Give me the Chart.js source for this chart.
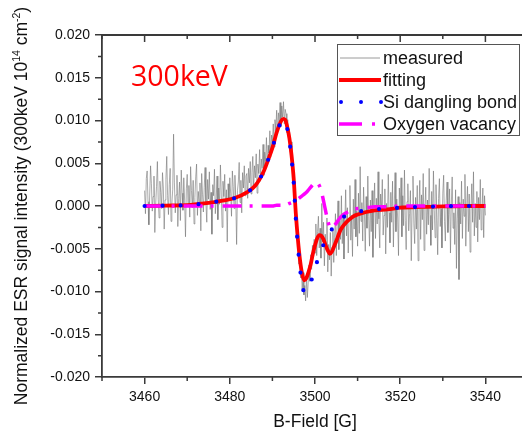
<!DOCTYPE html>
<html>
<head>
<meta charset="utf-8">
<script src="https://cdn.jsdelivr.net/npm/chart.js@4.4.1/dist/chart.umd.min.js"></script>
<style>
  html, body { margin: 0; padding: 0; background: #fff; overflow: hidden; }
  #wrap { width: 530px; height: 435px; }
</style>
</head>
<body>
<div id="wrap"><canvas id="esrChart" width="530" height="435"></canvas></div>
<script>
// measured ESR trace, sampled every 0.2 G starting at 3460 G
const measStart = 3460;
const measStep = 0.2;
const measured = [
  // 3460 - 3484
  0.0018, -0.0009, 0.0032, 0.0041, 0.0005, -0.0022, 0.0014, 0.0047, 0.0026, -0.0006,
  0.0011, 0.0035, -0.0031, 0.0002, 0.0023, 0.0052, 0.0008, -0.0014, 0.0029, 0.0016,
  -0.0003, 0.0039, 0.0021, -0.0027, 0.0007, 0.0031, 0.0058, 0.0012, -0.0010, 0.0025,
  0.0044, -0.0018, 0.0003, 0.0019, 0.0084, 0.0027, -0.0008, 0.0013, 0.0036, -0.0024,
  0.0009, 0.0028, -0.0017, 0.0042, 0.0015, -0.0005, 0.0033, 0.0006, -0.0036, 0.0020,
  0.0037, 0.0001, 0.0024, -0.0013, 0.0046, 0.0018, -0.0002, 0.0030, -0.0021, 0.0010,
  0.0034, 0.0049, -0.0011, 0.0017, 0.0004, 0.0027, -0.0029, 0.0038, 0.0013, -0.0007,
  0.0022, 0.0045, 0.0003, -0.0019, 0.0031, 0.0008, 0.0040, -0.0004, 0.0016, -0.0033,
  0.0025, 0.0012, 0.0043, -0.0009, 0.0006, 0.0035, -0.0016, 0.0021, 0.0002, 0.0048,
  0.0014, -0.0025, 0.0029, 0.0011, 0.0037, -0.0006, 0.0019, -0.0042, 0.0026, 0.0007,
  0.0033, 0.0015, -0.0012, 0.0041, 0.0023, -0.0003, 0.0036, 0.0009, -0.0045, 0.0018,
  0.0028, 0.0051, 0.0004, 0.0030, -0.0008, 0.0039, 0.0021, 0.0047, 0.0012, 0.0035,
  // 3484 - 3493
  0.0038, 0.0009, 0.0044, 0.0027, 0.0052, 0.0014, 0.0039, 0.0058, 0.0020, 0.0047,
  0.0033, 0.0061, 0.0015, 0.0049, 0.0038, 0.0066, 0.0029, 0.0055, 0.0044, 0.0072,
  0.0036, 0.0063, 0.0052, 0.0080, 0.0047, 0.0071, 0.0062, 0.0088, 0.0057, 0.0083,
  0.0074, 0.0096, 0.0069, 0.0101, 0.0088, 0.0112, 0.0084, 0.0109, 0.0098, 0.0121,
  0.0093, 0.0117, 0.0104, 0.0122, 0.0096, 0.0113,
  // 3493.2 - 3500
  0.0108, 0.0086, 0.0101, 0.0077, 0.0090, 0.0063, 0.0075, 0.0044, 0.0051, 0.0022,
  0.0029, -0.0009, -0.0006, -0.0038, -0.0033, -0.0068, -0.0055, -0.0084, -0.0071, -0.0099,
  -0.0078, -0.0104, -0.0093, -0.0111, -0.0082, -0.0107, -0.0090, -0.0069, -0.0088, -0.0057,
  -0.0074, -0.0046, -0.0061, -0.0039, -0.0055,
  // 3500.2 - 3510
  -0.0021, -0.0058, -0.0030, -0.0012, -0.0049, -0.0026, -0.0061, 0.0003, -0.0042, -0.0019,
  -0.0070, -0.0033, -0.0052, -0.0014, -0.0077, -0.0045, -0.0063, -0.0031, -0.0082, -0.0048,
  -0.0028, -0.0066, -0.0037, -0.0009, -0.0058, -0.0024, 0.0006, -0.0051, -0.0017, -0.0039,
  0.0012, -0.0044, -0.0008, -0.0062, -0.0021, 0.0019, -0.0035, -0.0002, -0.0055, -0.0014,
  0.0024, -0.0040, -0.0011, -0.0059, 0.0008, -0.0027, 0.0031, -0.0036, -0.0006, -0.0047,
  // 3510.2 - 3540
  0.0015, -0.0032, 0.0046, -0.0018, 0.0004, -0.0041, 0.0022, -0.0009, -0.0053, 0.0011,
  -0.0026, 0.0035, -0.0012, -0.0047, 0.0007, -0.0030, 0.0018, -0.0060, -0.0003, 0.0027,
  -0.0038, 0.0009, -0.0021, 0.0040, -0.0015, -0.0049, 0.0014, -0.0006, 0.0031, -0.0034,
  -0.0011, 0.0020, -0.0056, 0.0003, -0.0025, 0.0037, -0.0008, -0.0043, 0.0016, -0.0019,
  0.0029, -0.0048, -0.0002, 0.0039, -0.0030, 0.0008, -0.0014, -0.0058, 0.0021, -0.0004,
  0.0033, -0.0036, 0.0012, -0.0023, 0.0042, -0.0017, -0.0051, 0.0005, 0.0026, -0.0029,
  -0.0009, 0.0018, -0.0064, 0.0001, 0.0035, -0.0020, -0.0044, 0.0010, -0.0027, 0.0024,
  -0.0064, -0.0007, 0.0030, -0.0039, 0.0013, -0.0016, 0.0038, -0.0052, -0.0001, 0.0022,
  -0.0033, 0.0007, -0.0022, 0.0044, -0.0011, -0.0046, 0.0017, -0.0028, 0.0041, -0.0005,
  -0.0037, 0.0025, -0.0013, -0.0057, 0.0009, 0.0032, -0.0024, -0.0003, -0.0049, 0.0015,
  0.0036, -0.0018, -0.0041, 0.0006, 0.0028, -0.0031, -0.0010, 0.0020, -0.0055, 0.0002,
  0.0034, -0.0026, -0.0008, -0.0045, 0.0019, -0.0073, -0.0015, 0.0011, -0.0086, 0.0004,
  -0.0021, 0.0029, -0.0038, 0.0008, -0.0012, 0.0037, -0.0047, -0.0002, 0.0023, -0.0030,
  0.0014, -0.0054, -0.0006, 0.0026, -0.0019, 0.0040, -0.0035, 0.0003, -0.0025, 0.0017,
  -0.0042, 0.0010, -0.0016, 0.0031, -0.0028, -0.0004, 0.0021, -0.0037, 0.0012, -0.0011
];

// fitted curves share this field grid
const fitField = [
  3460, 3465, 3470, 3474, 3478, 3481, 3484, 3486, 3488, 3489, 3490, 3491, 3492, 3492.5,
  3493, 3493.5, 3494, 3494.5, 3495, 3495.5, 3496, 3496.5, 3497, 3497.5, 3498, 3498.5,
  3499, 3499.5, 3500, 3500.5, 3501, 3501.5, 3502, 3502.5, 3503, 3503.5, 3504, 3504.5,
  3505, 3506, 3507, 3508, 3509, 3510, 3512, 3514, 3517, 3520, 3525, 3530, 3535, 3540
];
const fitting = [
  0.0000, 0.00005, 0.0001, 0.0003, 0.0006, 0.0009, 0.0016, 0.0024, 0.0041, 0.0054, 0.0068, 0.0086, 0.0099, 0.0102,
  0.0101, 0.0092, 0.0079, 0.0059, 0.0032, -0.0009, -0.0040, -0.0064, -0.0080, -0.0087, -0.0084, -0.0077,
  -0.0068, -0.0056, -0.0046, -0.0038, -0.0034, -0.0035, -0.0039, -0.0046, -0.0052, -0.0056, -0.0053, -0.0047,
  -0.0041, -0.0028, -0.0021, -0.0016, -0.0012, -0.0010, -0.0007, -0.0005, -0.0004, -0.0002, -0.0001, -0.00005, 0.0000, 0.0000
];
const siDangling = [
  0.0000, 0.00005, 0.0001, 0.0003, 0.0006, 0.0009, 0.0016, 0.0024, 0.0041, 0.0054, 0.0068, 0.0085, 0.0098, 0.0101,
  0.0099, 0.0090, 0.0076, 0.0055, 0.0027, -0.0015, -0.0048, -0.0074, -0.0092, -0.0101, -0.0100, -0.0096,
  -0.0090, -0.0081, -0.0073, -0.0065, -0.0058, -0.0052, -0.0045, -0.0040, -0.0035, -0.0031, -0.0027, -0.0024,
  -0.0021, -0.0015, -0.0012, -0.0010, -0.0008, -0.0007, -0.0005, -0.0004, -0.0003, -0.0002, -0.0001, -0.00005, 0.0000, 0.0000
];
const oxVacancy = [
  0.0000, 0.0000, 0.0000, 0.0000, 0.0000, 0.0000, 0.0000, 0.0000, 0.0000, 0.0000, 0.0000, 0.0001, 0.0001, 0.0001,
  0.0002, 0.0002, 0.0003, 0.0004, 0.0005, 0.0006, 0.0008, 0.0010, 0.0012, 0.0014, 0.0016, 0.0019,
  0.0022, 0.0025, 0.0027, 0.0027, 0.0024, 0.0017, 0.0006, -0.0006, -0.0017, -0.0025, -0.0026, -0.0023,
  -0.0020, -0.0013, -0.0009, -0.0006, -0.0004, -0.0003, -0.0002, -0.0001, -0.0001, 0.0000, 0.0000, 0.0000, 0.0000, 0.0000
];

const xTicks = [3460, 3480, 3500, 3520, 3540];
const xMinorTicks = [3450, 3470, 3490, 3510, 3530, 3550];
const yTicks = [-0.020, -0.015, -0.010, -0.005, 0.000, 0.005, 0.010, 0.015, 0.020];
const yMinorTicks = [-0.0175, -0.0125, -0.0075, -0.0025, 0.0025, 0.0075, 0.0125, 0.0175];
const seriesNames = ["measured", "fitting", "Si dangling bond", "Oxygen vacancy"];

const axisColor = "#3a3a3a";
const sansFont = "'Liberation Sans', Arial, sans-serif";

function toPoints(xs, ys) {
  return ys.map((y, i) => ({ x: xs[i], y: y }));
}
const measuredPoints = measured.map((y, i) => ({ x: measStart + i * measStep, y: y }));

const framePlugin = {
  id: "frame",
  afterDraw(chart) {
    const ctx = chart.ctx;
    const area = chart.chartArea;
    const xs = chart.scales.x;
    const ys = chart.scales.y;
    ctx.save();
    ctx.strokeStyle = axisColor;
    ctx.lineWidth = 1.8;
    // top and right frame lines
    ctx.beginPath();
    ctx.moveTo(area.left, area.top);
    ctx.lineTo(area.right, area.top);
    ctx.lineTo(area.right, area.bottom);
    ctx.stroke();

    ctx.lineWidth = 1.5;
    ctx.beginPath();
    // bottom minor ticks (outward), top ticks (inward)
    xMinorTicks.forEach(v => {
      const px = xs.getPixelForValue(v);
      ctx.moveTo(px, area.bottom); ctx.lineTo(px, area.bottom + 4);
      ctx.moveTo(px, area.top); ctx.lineTo(px, area.top + 4);
    });
    xTicks.forEach(v => {
      const px = xs.getPixelForValue(v);
      ctx.moveTo(px, area.top); ctx.lineTo(px, area.top + 7);
    });
    // left minor ticks (outward)
    yMinorTicks.forEach(v => {
      const py = ys.getPixelForValue(v);
      ctx.moveTo(area.left, py); ctx.lineTo(area.left - 4, py);
    });
    ctx.stroke();

    // axis titles
    ctx.fillStyle = "#111";
    ctx.font = "17.5px " + sansFont;
    ctx.textAlign = "center";
    ctx.textBaseline = "middle";
    ctx.fillText("B-Field [G]", (area.left + area.right) / 2, 422);

    const parts = [
      ["Normalized ESR signal intensity (300keV 10", false],
      ["14", true],
      [" cm", false],
      ["-2", true],
      [")", false]
    ];
    const bigFont = "17.5px " + sansFont;
    const smallFont = "10.5px " + sansFont;
    let total = 0;
    parts.forEach(p => {
      ctx.font = p[1] ? smallFont : bigFont;
      total += ctx.measureText(p[0]).width;
    });
    ctx.translate(27, 206);
    ctx.rotate(-Math.PI / 2);
    ctx.textAlign = "left";
    ctx.textBaseline = "alphabetic";
    let pos = -total / 2;
    parts.forEach(p => {
      ctx.font = p[1] ? smallFont : bigFont;
      ctx.fillText(p[0], pos, p[1] ? -7.5 : 0);
      pos += ctx.measureText(p[0]).width;
    });
    ctx.restore();

    // energy label
    ctx.save();
    ctx.fillStyle = "#ff0000";
    ctx.font = "28.5px 'Open Sans', 'Noto Sans', sans-serif";
    ctx.textBaseline = "alphabetic";
    ctx.fillText("300keV", 131, 86);
    ctx.restore();

    // legend box
    ctx.save();
    ctx.fillStyle = "#fff";
    ctx.fillRect(337.5, 44.5, 182, 91);
    ctx.strokeStyle = "#555";
    ctx.lineWidth = 1;
    ctx.strokeRect(337.5, 44.5, 182, 91);
    const rows = [58, 80, 102, 124];
    // measured sample
    ctx.strokeStyle = "#9a9a9a";
    ctx.lineWidth = 1;
    ctx.beginPath(); ctx.moveTo(340, rows[0]); ctx.lineTo(380, rows[0]); ctx.stroke();
    // fitting sample
    ctx.strokeStyle = "#ff0000";
    ctx.lineWidth = 4;
    ctx.beginPath(); ctx.moveTo(339, rows[1]); ctx.lineTo(381, rows[1]); ctx.stroke();
    // Si dangling bond sample
    ctx.strokeStyle = "#0000ff";
    ctx.lineCap = "round";
    ctx.setLineDash([0, 20]);
    ctx.beginPath(); ctx.moveTo(341, rows[2]); ctx.lineTo(382, rows[2]); ctx.stroke();
    // Oxygen vacancy sample
    ctx.strokeStyle = "#ff00ff";
    ctx.lineCap = "butt";
    ctx.lineWidth = 3.5;
    ctx.setLineDash([23, 10, 3, 20]);
    ctx.beginPath(); ctx.moveTo(339, rows[3]); ctx.lineTo(381, rows[3]); ctx.stroke();
    ctx.setLineDash([]);
    ctx.fillStyle = "#111";
    ctx.font = "18px " + sansFont;
    ctx.textAlign = "left";
    ctx.textBaseline = "middle";
    seriesNames.forEach((name, i) => ctx.fillText(name, 383, rows[i] + 1));
    ctx.restore();
  }
};

new Chart(document.getElementById("esrChart").getContext("2d"), {
  type: "line",
  data: {
    datasets: [
      {
        label: seriesNames[0],
        data: measuredPoints,
        borderColor: "rgba(115,115,115,0.75)",
        borderWidth: 0.8,
        pointRadius: 0,
        tension: 0,
        order: 3
      },
      {
        label: seriesNames[1],
        data: toPoints(fitField, fitting),
        borderColor: "#ff0000",
        borderWidth: 3.8,
        pointRadius: 0,
        cubicInterpolationMode: "monotone",
        order: 2
      },
      {
        label: seriesNames[2],
        data: toPoints(fitField, siDangling),
        borderColor: "#0000ff",
        borderWidth: 4.2,
        borderDash: [0, 18],
        borderCapStyle: "round",
        pointRadius: 0,
        cubicInterpolationMode: "monotone",
        order: 0
      },
      {
        label: seriesNames[3],
        data: toPoints(fitField, oxVacancy),
        borderColor: "#ff00ff",
        borderWidth: 3.5,
        borderDash: [19, 8, 3, 9],
        pointRadius: 0,
        cubicInterpolationMode: "monotone",
        order: 1
      }
    ]
  },
  options: {
    responsive: false,
    animation: false,
    layout: { padding: { left: 0, top: 35, right: 2, bottom: 0 } },
    plugins: {
      legend: { display: false },
      tooltip: { enabled: false }
    },
    scales: {
      x: {
        type: "linear",
        min: 3450,
        max: 3550,
        afterBuildTicks: scale => { scale.ticks = xTicks.map(v => ({ value: v })); },
        afterFit: scale => { scale.height = 58; },
        grid: { drawOnChartArea: false, tickLength: 7, color: axisColor, lineWidth: 1.5 },
        border: { display: true, color: axisColor, width: 1.8 },
        ticks: {
          padding: 5,
          color: "#111",
          font: { size: 14, family: sansFont },
          maxRotation: 0,
          callback: v => String(v)
        }
      },
      y: {
        type: "linear",
        min: -0.02,
        max: 0.02,
        afterBuildTicks: scale => { scale.ticks = yTicks.map(v => ({ value: v })); },
        afterFit: scale => { scale.width = 102; },
        grid: { drawOnChartArea: false, tickLength: 7, color: axisColor, lineWidth: 1.5 },
        border: { display: true, color: axisColor, width: 1.8 },
        ticks: {
          padding: 5,
          color: "#111",
          font: { size: 14, family: sansFont },
          callback: v => v.toFixed(3)
        }
      }
    }
  },
  plugins: [framePlugin]
});
</script>
</body>
</html>
